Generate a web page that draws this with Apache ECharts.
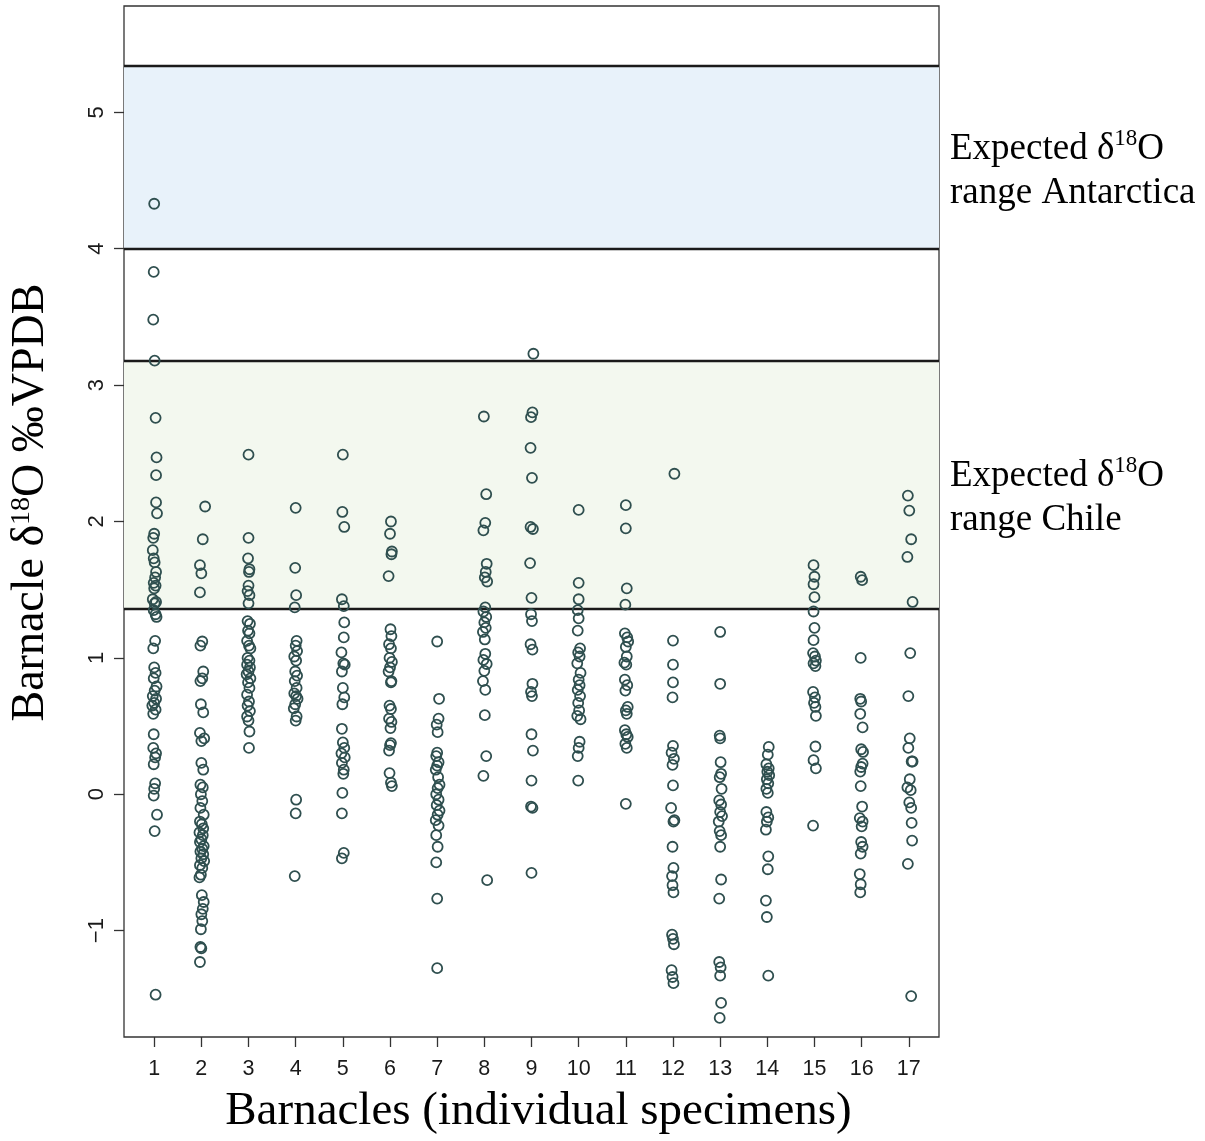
<!DOCTYPE html>
<html>
<head>
<meta charset="utf-8">
<title>Barnacle δ18O by specimen</title>
<script src="https://cdn.jsdelivr.net/npm/echarts@6/dist/echarts.min.js"></script>
<style>
  html, body { margin: 0; padding: 0; background: #ffffff; }
  #chart { width: 1205px; height: 1141px; }
</style>
</head>
<body>
<div id="chart"></div>
<script>
// Specimen numbers shown along the x axis
const specimens = [1, 2, 3, 4, 5, 6, 7, 8, 9, 10, 11, 12, 13, 14, 15, 16, 17];
// y-axis tick values
const yTicks = [-1, 0, 1, 2, 3, 4, 5];

// Expected δ18O ranges (‰ VPDB)
const antarcticaRange = [4.0, 5.34];
const chileRange = [1.36, 3.18];

// Measurements per barnacle: [jittered specimen position, δ18O]
const barnacle1 = [[1.00,4.33],[0.99,3.83],[0.98,3.48],[1.01,3.18],[1.03,2.76],[1.05,2.47],[1.04,2.34],[1.04,2.14],[1.06,2.06],[1.00,1.91],[0.98,1.88],[0.97,1.79],[0.99,1.73],[1.01,1.70],[1.04,1.63],[1.02,1.59],[0.99,1.55],[1.03,1.53],[1.00,1.51],[0.97,1.43],[1.04,1.41],[1.01,1.40],[0.99,1.35],[1.03,1.32],[1.05,1.30],[1.02,1.125],[0.98,1.07],[1.00,0.93],[1.03,0.89],[0.99,0.85],[1.05,0.79],[1.01,0.76],[0.97,0.72],[1.04,0.70],[1.00,0.67],[0.96,0.65],[1.03,0.62],[0.98,0.59],[0.99,0.44],[0.98,0.34],[1.04,0.30],[1.02,0.27],[0.99,0.22],[1.02,0.08],[1.00,0.04],[0.99,-0.01],[1.06,-0.15],[1.01,-0.27],[1.03,-1.47]];
const barnacle2 = [[2.08,2.11],[2.03,1.87],[1.97,1.68],[2.00,1.62],[1.97,1.48],[2.02,1.12],[1.98,1.09],[2.04,0.90],[2.02,0.85],[1.98,0.83],[1.99,0.66],[2.04,0.60],[1.97,0.45],[2.06,0.41],[2.00,0.39],[2.00,0.23],[2.04,0.18],[1.98,0.07],[2.03,0.05],[1.99,0.00],[2.02,-0.05],[1.98,-0.10],[2.05,-0.15],[1.97,-0.20],[2.01,-0.22],[2.04,-0.25],[1.96,-0.28],[2.03,-0.30],[2.00,-0.33],[1.97,-0.35],[2.05,-0.38],[2.02,-0.40],[1.98,-0.42],[2.04,-0.44],[2.00,-0.47],[2.06,-0.49],[1.97,-0.52],[2.02,-0.54],[1.99,-0.59],[1.96,-0.61],[2.01,-0.74],[2.05,-0.79],[2.03,-0.84],[2.00,-0.88],[2.02,-0.93],[1.99,-0.99],[1.98,-1.12],[2.00,-1.13],[1.97,-1.23]];
const barnacle3 = [[3.00,2.49],[3.00,1.88],[2.99,1.73],[3.02,1.65],[3.01,1.63],[3.00,1.53],[2.98,1.49],[3.02,1.46],[3.00,1.40],[2.98,1.27],[3.03,1.25],[2.99,1.20],[3.02,1.18],[2.97,1.125],[3.01,1.09],[3.04,1.07],[2.98,1.00],[3.02,0.98],[2.97,0.95],[3.03,0.93],[3.00,0.90],[2.96,0.88],[3.04,0.85],[2.99,0.82],[3.02,0.78],[2.97,0.73],[3.01,0.68],[2.98,0.65],[3.03,0.61],[2.97,0.57],[3.00,0.54],[3.02,0.46],[3.01,0.34]];
const barnacle4 = [[4.00,2.10],[3.99,1.66],[4.01,1.46],[3.98,1.37],[4.02,1.125],[4.00,1.09],[4.03,1.05],[3.97,1.01],[4.01,0.98],[3.99,0.90],[4.03,0.87],[3.98,0.83],[4.02,0.78],[3.97,0.74],[4.01,0.72],[4.04,0.70],[3.99,0.66],[3.96,0.63],[4.02,0.57],[4.00,0.54],[4.01,-0.04],[4.00,-0.14],[3.98,-0.60]];
const barnacle5 = [[5.00,2.49],[4.99,2.07],[5.03,1.96],[4.98,1.43],[5.02,1.38],[5.03,1.26],[5.02,1.15],[4.97,1.04],[5.01,0.96],[5.04,0.95],[4.98,0.90],[5.00,0.78],[5.03,0.71],[4.99,0.66],[4.98,0.48],[5.00,0.38],[5.03,0.34],[4.97,0.30],[5.04,0.27],[4.98,0.23],[5.02,0.18],[5.01,0.15],[4.99,0.01],[4.98,-0.14],[5.02,-0.43],[4.98,-0.47]];
const barnacle6 = [[6.02,2.00],[6.00,1.91],[6.04,1.78],[6.03,1.76],[5.97,1.60],[6.01,1.21],[6.03,1.16],[5.98,1.10],[6.02,1.07],[5.99,1.00],[6.04,0.97],[6.00,0.93],[5.97,0.90],[6.03,0.83],[6.02,0.82],[5.99,0.65],[6.02,0.625],[5.98,0.555],[6.03,0.53],[6.01,0.485],[6.02,0.375],[6.00,0.36],[5.98,0.32],[5.99,0.155],[6.02,0.085],[6.04,0.06]];
const barnacle7 = [[7.00,1.12],[7.04,0.70],[7.03,0.555],[6.99,0.51],[7.01,0.455],[7.00,0.305],[6.98,0.28],[7.03,0.235],[7.00,0.21],[6.97,0.18],[7.02,0.125],[7.05,0.07],[7.01,0.045],[6.98,0.00],[7.03,-0.04],[6.99,-0.08],[7.05,-0.12],[7.01,-0.15],[6.97,-0.19],[7.03,-0.23],[6.98,-0.30],[7.01,-0.385],[6.98,-0.50],[7.00,-0.765],[7.00,-1.275]];
const barnacle8 = [[7.99,2.77],[8.04,2.20],[8.02,1.99],[7.98,1.935],[8.05,1.69],[8.03,1.63],[8.01,1.59],[8.06,1.56],[8.02,1.37],[7.98,1.34],[8.04,1.30],[8.00,1.26],[8.03,1.22],[7.97,1.19],[8.01,1.135],[8.02,1.03],[7.98,0.985],[8.05,0.955],[8.00,0.905],[7.97,0.83],[8.02,0.765],[8.01,0.58],[8.04,0.28],[7.98,0.135],[8.06,-0.63]];
const barnacle9 = [[9.04,3.23],[9.02,2.80],[8.99,2.765],[8.98,2.54],[9.01,2.32],[8.98,1.96],[9.03,1.945],[8.97,1.695],[9.00,1.44],[8.99,1.32],[9.01,1.27],[8.98,1.10],[9.02,1.06],[9.02,0.81],[8.99,0.75],[9.01,0.72],[9.00,0.44],[9.03,0.32],[9.00,0.10],[8.99,-0.09],[9.02,-0.10],[9.00,-0.577]];
const barnacle10 = [[10.00,2.085],[10.00,1.55],[10.00,1.43],[9.98,1.35],[10.00,1.29],[9.98,1.20],[10.03,1.07],[9.99,1.04],[10.02,1.01],[9.97,0.96],[10.04,0.89],[10.00,0.84],[10.02,0.80],[9.98,0.765],[10.03,0.72],[9.99,0.67],[10.01,0.615],[9.97,0.575],[10.04,0.55],[10.02,0.385],[10.00,0.34],[9.98,0.28],[9.99,0.10]];
const barnacle11 = [[11.00,2.12],[11.00,1.95],[11.02,1.51],[10.99,1.39],[10.98,1.18],[11.03,1.15],[11.05,1.12],[11.00,1.08],[11.02,1.01],[10.97,0.965],[11.01,0.95],[10.98,0.84],[11.03,0.80],[10.99,0.76],[11.04,0.64],[11.00,0.615],[11.02,0.59],[10.98,0.47],[11.01,0.44],[11.04,0.42],[10.99,0.37],[11.02,0.34],[11.00,-0.07]];
const barnacle12 = [[12.03,2.35],[12.00,1.127],[12.00,0.95],[12.00,0.82],[11.99,0.71],[12.00,0.355],[11.97,0.305],[12.02,0.26],[11.99,0.215],[12.00,0.065],[11.96,-0.10],[12.03,-0.19],[12.01,-0.20],[11.99,-0.385],[12.01,-0.54],[11.98,-0.60],[11.99,-0.667],[12.01,-0.72],[11.98,-1.03],[12.00,-1.06],[12.02,-1.10],[11.97,-1.29],[11.99,-1.34],[12.01,-1.385]];
const barnacle13 = [[13.00,1.19],[13.00,0.81],[12.99,0.43],[13.00,0.41],[13.01,0.235],[13.02,0.15],[12.99,0.125],[13.03,0.04],[12.98,-0.045],[13.02,-0.075],[13.00,-0.13],[13.04,-0.16],[12.97,-0.20],[12.99,-0.27],[13.02,-0.30],[13.00,-0.385],[13.02,-0.625],[12.98,-0.765],[12.98,-1.23],[13.01,-1.27],[13.00,-1.33],[13.02,-1.53],[12.99,-1.64]];
const barnacle14 = [[14.03,0.347],[14.01,0.29],[13.98,0.22],[14.03,0.19],[14.00,0.165],[14.04,0.14],[13.99,0.11],[14.02,0.08],[13.98,0.04],[14.01,0.01],[13.98,-0.13],[14.02,-0.17],[13.99,-0.20],[13.97,-0.26],[14.02,-0.455],[14.01,-0.55],[13.97,-0.78],[13.99,-0.90],[14.02,-1.33]];
const barnacle15 = [[14.98,1.68],[15.00,1.595],[14.98,1.54],[15.00,1.445],[14.98,1.34],[15.00,1.22],[14.98,1.13],[14.97,1.035],[15.01,1.01],[15.03,0.98],[14.98,0.96],[15.02,0.94],[14.97,0.75],[15.01,0.71],[14.99,0.67],[15.02,0.64],[15.03,0.575],[15.02,0.35],[14.98,0.25],[15.03,0.19],[14.97,-0.23]];
const barnacle16 = [[15.98,1.595],[16.01,1.57],[15.98,1.00],[15.97,0.70],[15.99,0.68],[15.97,0.59],[16.02,0.49],[15.99,0.33],[16.03,0.31],[16.02,0.225],[15.99,0.20],[15.97,0.166],[15.98,0.06],[16.01,-0.09],[15.96,-0.175],[16.02,-0.20],[16.00,-0.235],[15.99,-0.35],[16.02,-0.385],[15.98,-0.435],[15.96,-0.585],[15.98,-0.66],[15.97,-0.72]];
const barnacle17 = [[16.98,2.19],[17.01,2.08],[17.05,1.87],[16.97,1.74],[17.08,1.41],[17.03,1.035],[16.99,0.72],[17.02,0.41],[16.99,0.34],[17.08,0.24],[17.06,0.24],[17.02,0.11],[16.97,0.05],[17.04,0.03],[17.01,-0.06],[17.05,-0.10],[17.06,-0.21],[17.07,-0.34],[16.98,-0.51],[17.05,-1.48]];

const allBarnacles = [barnacle1, barnacle2, barnacle3, barnacle4, barnacle5, barnacle6,
  barnacle7, barnacle8, barnacle9, barnacle10, barnacle11, barnacle12, barnacle13,
  barnacle14, barnacle15, barnacle16, barnacle17];
const points = [].concat(...allBarnacles);

const SERIF = '"Liberation Serif", "Times New Roman", serif';
const SANS = '"Liberation Sans", Arial, Helvetica, sans-serif';
const POINT_COLOR = '#2f4f4f';

const chart = echarts.init(document.getElementById('chart'), null, { renderer: 'canvas' });

// Two-line note with a superscript isotope number
function rangeNote(place) {
  return '{t|Expected δ}{s|18}{t|O}\n{t|range ' + place + '}';
}
const noteRich = {
  t: { fontFamily: SERIF, fontSize: 37, lineHeight: 44, fill: '#000', color: '#000' },
  s: { fontFamily: SERIF, fontSize: 23, lineHeight: 35, verticalAlign: 'top', fill: '#000', color: '#000' }
};

chart.setOption({
  animation: false,
  backgroundColor: '#ffffff',
  grid: {
    left: 124, top: 6, width: 815, height: 1031,
    show: true, borderColor: '#333333', borderWidth: 1.3, backgroundColor: 'transparent'
  },
  xAxis: {
    type: 'value',
    min: 0.36, max: 17.64,
    splitLine: { show: false },
    axisLine: { show: false, onZero: false },
    axisTick: {
      show: true, customValues: specimens, length: 10, inside: false,
      lineStyle: { color: '#333333', width: 1.3 }
    },
    axisLabel: {
      customValues: specimens, fontFamily: SANS, fontSize: 21.5, color: '#1a1a1a', margin: 21
    },
    name: 'Barnacles (individual specimens)',
    nameLocation: 'middle',
    nameGap: 51,
    nameTextStyle: { fontFamily: SERIF, fontSize: 47, color: '#000', padding: [0, 0, 0, 14] }
  },
  yAxis: {
    type: 'value',
    min: -1.78, max: 5.78,
    splitLine: { show: false },
    axisLine: { show: false, onZero: false },
    axisTick: {
      show: true, customValues: yTicks, length: 10, inside: false,
      lineStyle: { color: '#333333', width: 1.3 }
    },
    axisLabel: {
      customValues: yTicks, rotate: 90, fontFamily: SANS, fontSize: 22, color: '#1a1a1a', margin: 16,
      formatter: v => (v < 0 ? '\u2212' + Math.abs(v) : String(v))
    },
    name: '{t|Barnacle δ}{s|18}{t|O ‰VPDB}',
    nameLocation: 'middle',
    nameRotate: 90,
    nameGap: 70,
    nameTextStyle: {
      fontFamily: SERIF, fontSize: 46, color: '#000',
      padding: [0, 0, 0, 38],
      rich: {
        t: { fontFamily: SERIF, fontSize: 46, lineHeight: 46, color: '#000' },
        s: { fontFamily: SERIF, fontSize: 28, lineHeight: 35, verticalAlign: 'top', color: '#000' }
      }
    }
  },
  series: [{
    type: 'scatter',
    data: points,
    symbol: 'circle',
    symbolSize: 10,
    itemStyle: { color: 'rgba(0,0,0,0)', borderColor: POINT_COLOR, borderWidth: 1.8, opacity: 1 },
    emphasis: { disabled: true },
    z: 5,
    markArea: {
      silent: true,
      itemStyle: { borderWidth: 0 },
      data: [
        [{ yAxis: antarcticaRange[0], itemStyle: { color: '#e8f2fa' } }, { yAxis: antarcticaRange[1] }],
        [{ yAxis: chileRange[0], itemStyle: { color: '#f3f8ef' } }, { yAxis: chileRange[1] }]
      ]
    },
    markLine: {
      silent: true,
      symbol: ['none', 'none'],
      label: { show: false },
      lineStyle: { color: '#1a1a1a', width: 2.4, type: 'solid' },
      data: [
        { yAxis: antarcticaRange[0] }, { yAxis: antarcticaRange[1] },
        { yAxis: chileRange[0] }, { yAxis: chileRange[1] }
      ]
    }
  }],
  graphic: [
    {
      type: 'text', left: 950, top: 127,
      style: { text: rangeNote('Antarctica'), rich: noteRich, fontFamily: SERIF, fontSize: 37, fill: '#000' }
    },
    {
      type: 'text', left: 950, top: 454,
      style: { text: rangeNote('Chile'), rich: noteRich, fontFamily: SERIF, fontSize: 37, fill: '#000' }
    }
  ]
});
</script>
</body>
</html>
